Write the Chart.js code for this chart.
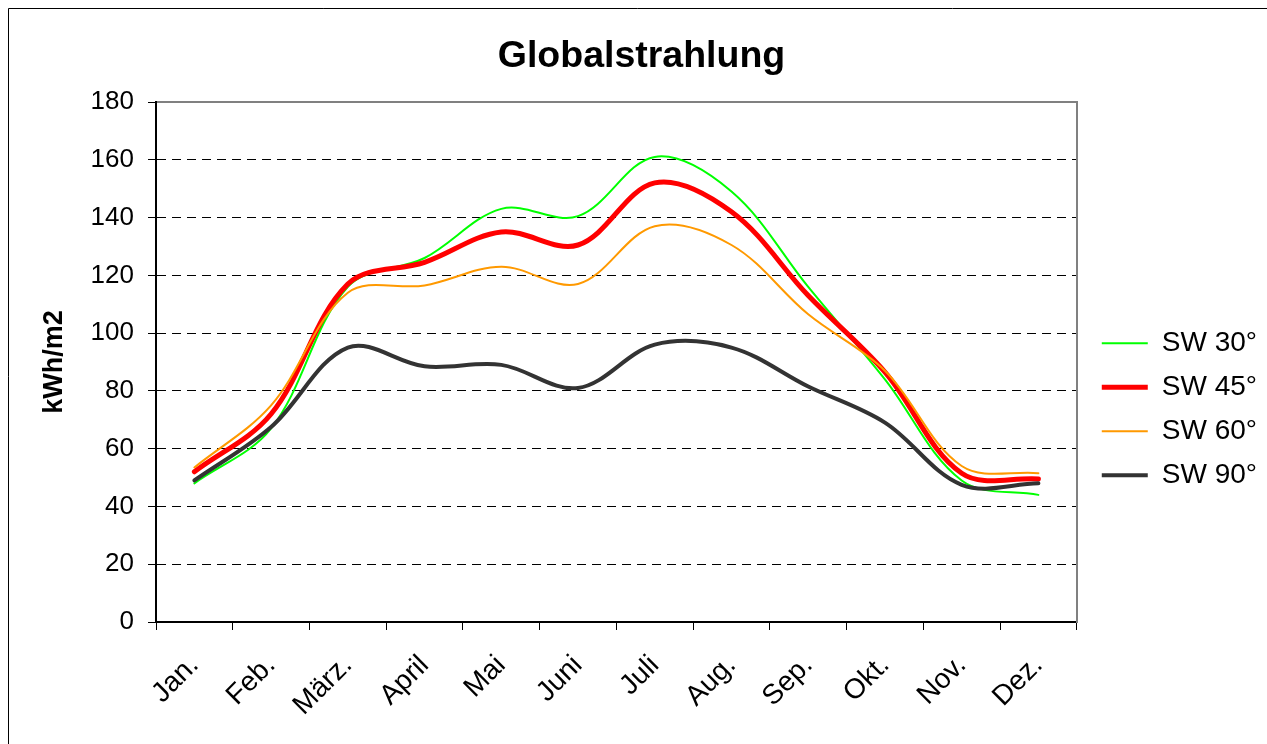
<!DOCTYPE html>
<html>
<head>
<meta charset="utf-8">
<title>Globalstrahlung</title>
<script src="https://cdn.jsdelivr.net/npm/chart.js@4/dist/chart.umd.min.js"></script>
<style>
  html, body { margin: 0; padding: 0; background: #fff; }
  canvas { display: block; }
</style>
</head>
<body>
<canvas id="chart" width="1267" height="744"></canvas>
<script>
// months on the category axis
const months = ["Jan.", "Feb.", "März.", "April", "Mai", "Juni", "Juli", "Aug.", "Sep.", "Okt.", "Nov.", "Dez."];

// kWh/m2 per month
const sw30 = [48, 67, 116, 126, 143, 140.5, 161, 149, 116, 84, 49, 44];
const sw45 = [52, 72, 117, 124.5, 135, 130.5, 152, 142, 113, 86.5, 51.5, 49.5];
const sw60 = [53.5, 75, 114, 116.5, 123, 117, 137, 130.5, 106.5, 87, 54, 51.5];
const sw90 = [49, 67.5, 95, 88.5, 89, 81, 96, 95, 81.5, 69, 47.5, 48];

const seriesNames = ["SW 30°", "SW 45°", "SW 60°", "SW 90°"];
const yTicks = [0, 20, 40, 60, 80, 100, 120, 140, 160, 180];

const FONT = '"Liberation Sans", Arial, Helvetica, sans-serif';
Chart.defaults.font.family = FONT;
Chart.defaults.color = "#000";

function series(label, data, color, width, order) {
  return {
    label: label,
    data: data,
    borderColor: color,
    backgroundColor: color,
    borderWidth: width,
    pointRadius: 0,
    pointHoverRadius: 0,
    pointBorderColor: color,
    pointBorderWidth: width,
    tension: 0.35,
    borderJoinStyle: "round",
    borderCapStyle: "round",
    fill: false,
    order: order
  };
}

// white background and the outer frame (left and top edge only)
const frame = {
  id: "frame",
  beforeDraw(chart) {
    const ctx = chart.ctx;
    ctx.save();
    ctx.fillStyle = "#fff";
    ctx.fillRect(0, 0, chart.width, chart.height);
    ctx.strokeStyle = "#000";
    ctx.lineWidth = 1;
    ctx.beginPath();
    ctx.moveTo(8.5, chart.height);
    ctx.lineTo(8.5, 8.5);
    ctx.lineTo(chart.width, 8.5);
    ctx.stroke();
    ctx.restore();
  }
};

new Chart(document.getElementById("chart").getContext("2d"), {
  type: "line",
  data: {
    labels: months,
    datasets: [
      series(seriesNames[0], sw30, "#00ff00", 2, 4),
      series(seriesNames[1], sw45, "#ff0000", 5, 3),
      series(seriesNames[2], sw60, "#ff9900", 2, 2),
      series(seriesNames[3], sw90, "#333333", 4, 1)
    ]
  },
  options: {
    responsive: false,
    devicePixelRatio: 1,
    animation: false,
    layout: { padding: { left: 16, right: 0, top: 0, bottom: 0 } },
    plugins: {
      title: {
        display: true,
        text: "Globalstrahlung",
        font: { size: 37.5, weight: "bold" },
        color: "#000",
        padding: { top: 34.5, bottom: 22.5 }
      },
      legend: {
        position: "right",
        reverse: true,
        title: { display: true, text: " ", font: { size: 12 }, padding: { top: 60, bottom: 0 } },
        labels: {
          usePointStyle: true,
          pointStyle: "line",
          pointStyleWidth: 46,
          padding: 16,
          color: "#000",
          font: { size: 28 }
        }
      },
      tooltip: { enabled: false }
    },
    scales: {
      x: {
        type: "category",
        offset: true,
        grid: {
          offset: true,
          drawOnChartArea: false,
          drawTicks: true,
          tickLength: 8,
          color: "#000",
          tickColor: "#000"
        },
        border: { color: "#000", width: 2 },
        ticks: {
          autoSkip: false,
          maxRotation: 45,
          minRotation: 45,
          padding: 19,
          font: { size: 28 },
          color: "#000"
        },
        afterFit(scale) { scale.height = 122; }
      },
      x2: {
        type: "category",
        position: "top",
        offset: true,
        grid: { display: false, drawTicks: false },
        ticks: { display: false },
        border: { color: "#808080", width: 2 },
        afterFit(scale) { scale.height = 0; }
      },
      y: {
        min: 0,
        max: 180,
        afterBuildTicks(scale) {
          scale.ticks = yTicks.map(v => ({ value: v }));
        },
        grid: {
          color: "#000",
          lineWidth: 1,
          tickLength: 8,
          tickColor: "#000",
          tickBorderDash: []
        },
        border: { color: "#000", width: 2, dash: [9, 6] },
        ticks: {
          padding: 14,
          font: { size: 26 },
          color: "#000"
        },
        title: {
          display: true,
          text: "kWh/m2",
          font: { size: 27, weight: "bold" },
          color: "#000",
          padding: { top: 22, bottom: 0 }
        },
        afterFit(scale) { scale.width = 140; }
      },
      y2: {
        position: "right",
        min: 0,
        max: 180,
        grid: { display: false, drawTicks: false },
        ticks: { display: false },
        border: { color: "#808080", width: 2 },
        afterFit(scale) { scale.width = 9; }
      }
    }
  },
  plugins: [frame]
});
</script>
</body>
</html>
